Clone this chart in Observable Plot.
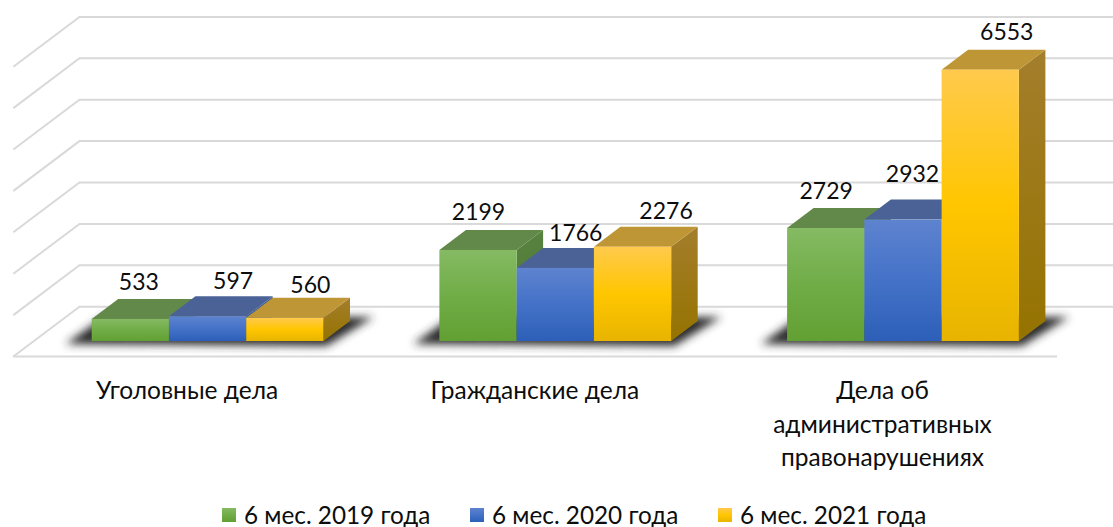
<!DOCTYPE html>
<html lang="ru">
<head>
<meta charset="utf-8">
<script src="https://cdn.jsdelivr.net/npm/d3@7"></script>
<script src="https://cdn.jsdelivr.net/npm/@observablehq/plot@0.6"></script>
<style>
  html, body { margin: 0; padding: 0; background: #fff; }
  body { width: 1113px; height: 527px; overflow: hidden; font-family: Lato, "Open Sans", sans-serif; color: #0d0d0d; }
  svg { display: block; }
  .legend { display: flex; margin-left: 222px; height: 24px; line-height: 24px; align-items: center; font-size: 24.3px; white-space: nowrap; }
  .legend .item { display: flex; align-items: center; width: 248px; }
  .legend .sw { width: 14px; height: 14px; margin-right: 8px; flex: none; }
</style>
</head>
<body>
<div id="chart"></div>
<div class="legend" id="legend"></div>
<script>
const categories = ["Уголовные дела", "Гражданские дела", "Дела об\nадминистративных\nправонарушениях"];
const seriesNames = ["6 мес. 2019 года", "6 мес. 2020 года", "6 мес. 2021 года"];
const values2019 = [533, 2199, 2729];
const values2020 = [597, 1766, 2932];
const values2021 = [560, 2276, 6553];
const gridTicks = [0, 1000, 2000, 3000, 4000, 5000, 6000, 7000];

// Hand-placed data label nudges from the reference [dx, dy] in pixels
const labelNudges = [
  [[8, -37], [25, -35], [25, -33]],
  [[0, -37.5], [20, -35], [33, -36]],
  [[0, -36.5], [9, -45], [26, -38]]
];

const frontColors = [
  ["#85ba63", "#70ad47", "#62a033"],
  ["#5e83cf", "#4472c8", "#2d5fb8"],
  ["#ffca4d", "#ffc600", "#e8b400"]
];
const topColors = ["#63894a", "#4a6296", "#bf9636"];
const sideColors = [["#57823f", "#4f7a34"], ["#3f5f9a", "#345488"], ["#a47e2c", "#957300"]];

const rows = categories.flatMap((category, i) =>
  [values2019, values2020, values2021].map((vals, s) => ({
    category, i, s, series: seriesNames[s], value: vals[i],
    x1: i + (s - 1.5) / 4.5,
    x2: i + (s - 0.5) / 4.5
  }))
);

const defs = () => {
  const d = d3.create("svg:defs");
  frontColors.forEach((c, s) => {
    d.append("linearGradient").attr("id", `front${s}`).attr("x1", 0).attr("x2", 0).attr("y1", 0).attr("y2", 1)
      .html(`<stop offset="0" stop-color="${c[0]}"/><stop offset=".5" stop-color="${c[1]}"/><stop offset="1" stop-color="${c[2]}"/>`);
    d.append("linearGradient").attr("id", `side${s}`).attr("x1", 0).attr("x2", 0).attr("y1", 0).attr("y2", 1)
      .html(`<stop offset="0" stop-color="${sideColors[s][0]}"/><stop offset="1" stop-color="${sideColors[s][1]}"/>`);
  });
  d.append("filter").attr("id", "floorShadow").attr("x", "-20%").attr("y", "-60%").attr("width", "140%").attr("height", "220%")
    .html(`<feGaussianBlur stdDeviation="4.5"/>`);
  return d.node();
};

const NS = "http://www.w3.org/2000/svg";
const DEPTH_X = 26.5, DEPTH_Y = 20;
function poly(points, fill) {
  const p = document.createElementNS(NS, "polygon");
  p.setAttribute("points", points.map(q => q.join(",")).join(" "));
  p.setAttribute("fill", fill);
  return p;
}
function extrude(index, scales, channels, dimensions, context, next) {
  const g = next(index, scales, channels, dimensions, context);
  const rects = [...g.querySelectorAll("rect")];
  const box = r => ({x: +r.getAttribute("x"), y: +r.getAttribute("y"), w: +r.getAttribute("width"), h: +r.getAttribute("height")});
  rects.forEach((r, j) => {
    const {x, y, w, h} = box(r);
    const s = rows[index[j]].s;
    g.insertBefore(poly([[x + w, y], [x + w + DEPTH_X, y - DEPTH_Y], [x + w + DEPTH_X, y + h - DEPTH_Y], [x + w, y + h]], `url(#side${s})`), r);
    g.insertBefore(poly([[x, y], [x + DEPTH_X, y - DEPTH_Y], [x + w + DEPTH_X, y - DEPTH_Y], [x + w, y]], topColors[s]), r);
  });
  categories.forEach((_, i) => {
    const a = box(rects[3 * i]), b = box(rects[3 * i + 2]);
    const floor = a.y + a.h, x0 = a.x, x1 = b.x + b.w;
    const shadow = poly([[x0 - 26, floor + 3], [x1 + 3, floor + 5], [x1 + 50, floor - 24], [x0 + 12, floor - 24]], "#2b2b2b");
    shadow.setAttribute("filter", "url(#floorShadow)");
    g.insertBefore(shadow, g.firstChild);
  });
  return g;
}

const wallLeft = -0.37, frontLeft = -0.56, frameRight = 2.604, floorRight = 2.443;
const backLift = 840, frontDrop = -362; // floor depth, in value units
const gridColor = "#d9d9d9";

const plot = Plot.plot({
  width: 1113,
  height: 503,
  marginLeft: 0, marginRight: 0, marginTop: 0, marginBottom: 162,
  style: {fontFamily: "Lato, 'Open Sans', sans-serif", background: "transparent", overflow: "visible"},
  x: {domain: [-0.597, 2.604], range: [0, 1113], axis: null},
  y: {domain: [0, 7000], range: [341, 51.2], axis: null},
  color: {domain: seriesNames, range: [0, 1, 2].map(s => `url(#front${s})`)},
  marks: [
    defs,
    Plot.ruleY(gridTicks.map(t => t + backLift), {x1: wallLeft, x2: frameRight, stroke: gridColor, strokeWidth: 2}),
    Plot.link(gridTicks, {x1: frontLeft, x2: wallLeft, y1: t => t + frontDrop, y2: t => t + backLift, stroke: gridColor, strokeWidth: 2}),
    Plot.ruleY([frontDrop], {x1: frontLeft, x2: floorRight, stroke: gridColor, strokeWidth: 2}),
    Plot.rectY(rows, {x1: "x1", x2: "x2", y1: 0, y2: "value", fill: "series", render: extrude}),
    rows.map(d => {
      const [dx, dy] = labelNudges[d.i][d.s];
      return Plot.text([d], {x: e => (e.x1 + e.x2) / 2, y: "value", text: e => String(e.value), dx, dy, fontSize: 23, fill: "#0d0d0d"});
    }),
    Plot.axisX([0, 1, 2], {
      tickFormat: i => categories[i], tickSize: 0, tickPadding: 34, dx: -21, fontSize: 24.5, lineHeight: 1.37,
      lineAnchor: "top", label: null, fill: "#0d0d0d", textOverflow: null
    })
  ]
});
document.getElementById("chart").append(plot);

const legend = d3.select("#legend");
seriesNames.forEach((name, s) => {
  const item = legend.append("div").attr("class", "item");
  const c = frontColors[s];
  item.append("span").attr("class", "sw").style("background", `linear-gradient(${c[0]}, ${c[1]} 50%, ${c[2]})`);
  item.append("span").text(name);
});
</script>
</body>
</html>
